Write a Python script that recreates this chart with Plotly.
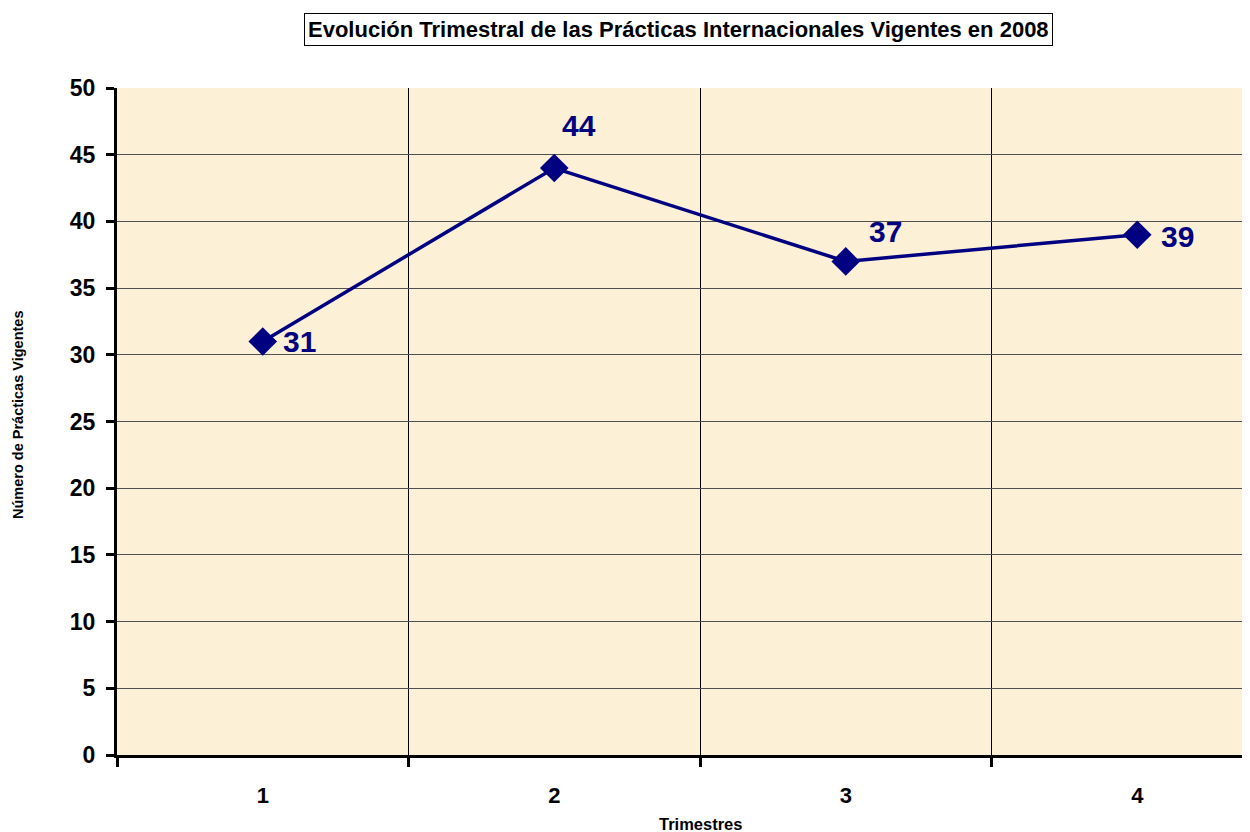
import plotly.graph_objects as go

trimestres = [1, 2, 3, 4]
practicas = [31, 44, 37, 39]
y_ticks = [0, 5, 10, 15, 20, 25, 30, 35, 40, 45, 50]
x_labels = ["1", "2", "3", "4"]

FONT = "Arial, Liberation Sans, sans-serif"
NAVY = "#000080"

# label offsets (pixels) per point: style only
label_dx = [37, 25, 40, 40]
label_dy = [0, 43, 30, -2]

fig = go.Figure()
fig.add_trace(go.Scatter(
    x=trimestres, y=practicas, mode="lines+markers",
    line=dict(color=NAVY, width=3.5),
    marker=dict(symbol="diamond", size=22, color=NAVY),
    showlegend=False, hoverinfo="skip",
))
# invisible trace for the label axis
fig.add_trace(go.Scatter(x=trimestres, y=practicas, xaxis="x2", mode="markers",
                         marker=dict(opacity=0), showlegend=False, hoverinfo="skip"))

annotations = []
for xv, yv, dx, dy in zip(trimestres, practicas, label_dx, label_dy):
    annotations.append(dict(x=xv, y=yv, xref="x", yref="y", text=f"<b>{yv}</b>",
                            showarrow=False, xshift=dx, yshift=dy,
                            xanchor="center", yanchor="middle",
                            font=dict(family=FONT, size=30, color=NAVY)))
annotations.append(dict(x=0.4956, y=1.0877, xref="paper", yref="paper",
                        xanchor="center", yanchor="middle",
                        text="<b>Evolución Trimestral de las Prácticas Internacionales Vigentes en 2008</b>",
                        showarrow=False, bordercolor="black", borderwidth=1, borderpad=3,
                        bgcolor="white", font=dict(family=FONT, size=22, color="black")))
annotations.append(dict(x=-0.0874, y=0.5097, xref="paper", yref="paper",
                        xanchor="center", yanchor="middle",
                        text="<b>Número de Prácticas Vigentes</b>", textangle=-90,
                        showarrow=False, font=dict(family=FONT, size=14.5, color="black")))
annotations.append(dict(x=0.5146, y=-0.1035, xref="paper", yref="paper",
                        xanchor="center", yanchor="middle",
                        text="<b>Trimestres</b>",
                        showarrow=False, font=dict(family=FONT, size=16.5, color="black")))

xr = [0.5, 0.5 + (1250 - 117) / 291.5]

fig.update_layout(
    width=1242, height=824,
    margin=dict(l=109, r=0, t=80, b=77),
    paper_bgcolor="white", plot_bgcolor="#FCF0D7",
    font=dict(family=FONT, color="black"),
    annotations=annotations,
    xaxis=dict(range=xr, tickvals=[0.5, 1.5, 2.5, 3.5], ticktext=["", "", "", ""],
               showgrid=True, gridcolor="black", gridwidth=1,
               ticks="outside", ticklen=9, tickwidth=3, tickcolor="black",
               showline=True, linecolor="black", linewidth=3, zeroline=False,
               fixedrange=True),
    xaxis2=dict(range=xr, overlaying="x", side="bottom", tickvals=trimestres,
                ticktext=x_labels, showgrid=False, ticks="", showline=False,
                zeroline=False, ticklabelstandoff=25,
                tickfont=dict(family=FONT, size=22, color="black", weight="bold")),
    yaxis=dict(range=[0, 50], tickvals=y_ticks,
               showgrid=True, gridcolor="#505050", gridwidth=1,
               ticks="outside", ticklen=8, tickwidth=3, tickcolor="black",
               showline=True, linecolor="black", linewidth=3, zeroline=False,
               ticklabelstandoff=6,
               tickfont=dict(family=FONT, size=23, color="black", weight="bold")),
)

fig.write_html("out.html")
